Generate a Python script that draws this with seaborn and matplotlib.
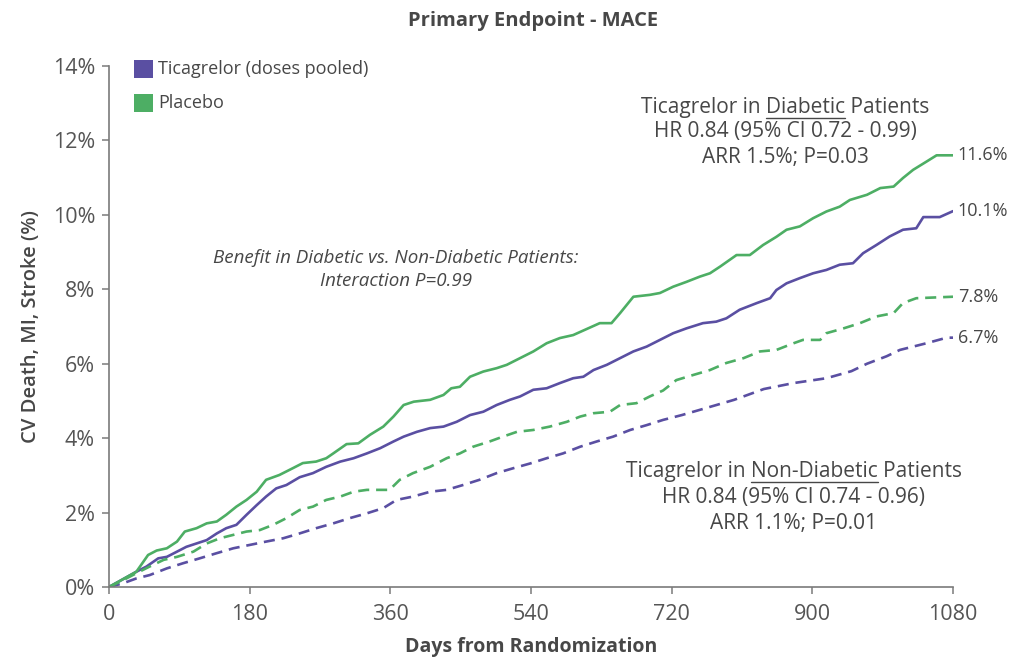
import matplotlib
matplotlib.use("Agg")
import matplotlib.pyplot as plt
from matplotlib.patches import Rectangle
from matplotlib.lines import Line2D
import seaborn as sns
import pandas as pd

# Kaplan-Meier cumulative incidence (%) by day from randomization
placebo_dm_days = [0, 35, 50, 61, 74, 87, 97, 112, 125, 138, 150, 163, 176, 189, 201, 218, 235, 248, 265, 278,
                   287, 304, 319, 334, 351, 364, 377, 390, 411, 428, 438, 449, 462, 479, 496, 509, 526, 543, 560, 577,
                   594, 611, 628, 643, 654, 671, 692, 705, 722, 739, 756, 769, 782, 803, 820, 837, 854, 867, 884, 901,
                   918, 935, 948, 970, 987, 1004, 1016, 1029, 1046, 1059, 1080]
placebo_dm_pct = [0, 0.41, 0.86, 0.98, 1.04, 1.22, 1.49, 1.58, 1.71, 1.76, 1.94, 2.16, 2.34, 2.56, 2.88, 3.01, 3.19, 3.33, 3.37, 3.46,
                  3.59, 3.84, 3.86, 4.09, 4.31, 4.58, 4.89, 4.98, 5.03, 5.16, 5.34, 5.38, 5.65, 5.79, 5.88, 5.97, 6.15, 6.33, 6.55, 6.69,
                  6.77, 6.93, 7.09, 7.09, 7.36, 7.8, 7.85, 7.9, 8.07, 8.2, 8.34, 8.43, 8.61, 8.92, 8.92, 9.19, 9.41, 9.6, 9.69, 9.91,
                  10.09, 10.22, 10.4, 10.54, 10.72, 10.76, 10.99, 11.21, 11.43, 11.6, 11.6]

ticagrelor_dm_days = [0, 35, 48, 63, 74, 87, 99, 112, 125, 138, 150, 163, 176, 189, 201, 214, 227, 244, 261, 278,
                      296, 313, 330, 347, 364, 377, 394, 411, 428, 445, 462, 479, 496, 513, 526, 543, 560, 577, 594, 607,
                      620, 637, 654, 671, 688, 705, 722, 739, 760, 777, 790, 807, 829, 846, 854, 867, 884, 901, 918, 935,
                      952, 965, 982, 999, 1016, 1033, 1042, 1063, 1080]
ticagrelor_dm_pct = [0, 0.41, 0.55, 0.77, 0.81, 0.95, 1.08, 1.17, 1.26, 1.44, 1.58, 1.67, 1.94, 2.2, 2.43, 2.65, 2.74, 2.95, 3.06, 3.23,
                     3.37, 3.46, 3.59, 3.73, 3.91, 4.04, 4.17, 4.27, 4.31, 4.44, 4.62, 4.71, 4.89, 5.03, 5.12, 5.3, 5.34, 5.48, 5.61, 5.65,
                     5.83, 5.97, 6.15, 6.33, 6.46, 6.64, 6.82, 6.95, 7.09, 7.13, 7.22, 7.45, 7.63, 7.76, 7.98, 8.16, 8.3, 8.43, 8.52, 8.66,
                     8.7, 8.97, 9.19, 9.42, 9.6, 9.64, 9.94, 9.94, 10.1]

placebo_nondm_days = [0, 14, 35, 52, 70, 87, 108, 125, 142, 159, 176, 193, 210, 227, 244, 261, 278, 296, 313, 330,
                      359, 372, 389, 411, 432, 449, 466, 487, 504, 522, 543, 564, 586, 603, 620, 641, 654, 675, 692, 709,
                      726, 748, 769, 790, 812, 833, 854, 876, 888, 910, 918, 940, 961, 982, 1004, 1016, 1033, 1080]
placebo_nondm_pct = [0, 0.14, 0.37, 0.55, 0.73, 0.81, 0.95, 1.17, 1.31, 1.4, 1.49, 1.53, 1.67, 1.85, 2.07, 2.16, 2.34, 2.43, 2.56, 2.61,
                     2.61, 2.88, 3.06, 3.23, 3.46, 3.59, 3.77, 3.91, 4.04, 4.17, 4.22, 4.31, 4.44, 4.58, 4.67, 4.71, 4.89, 4.94, 5.12, 5.28,
                     5.56, 5.7, 5.83, 6.02, 6.15, 6.33, 6.37, 6.55, 6.64, 6.64, 6.82, 6.95, 7.09, 7.27, 7.36, 7.63, 7.76, 7.8]

ticagrelor_nondm_days = [0, 18, 35, 52, 74, 95, 116, 138, 159, 180, 201, 223, 244, 265, 287, 308, 330, 351, 368, 389,
                         411, 432, 453, 474, 496, 517, 539, 560, 581, 603, 624, 645, 667, 688, 709, 733, 756, 800, 838, 876,
                         918, 950, 970, 995, 1012, 1046, 1072, 1080]
ticagrelor_nondm_pct = [0, 0.1, 0.23, 0.32, 0.5, 0.64, 0.77, 0.91, 1.04, 1.13, 1.22, 1.31, 1.44, 1.58, 1.71, 1.85, 1.98, 2.12, 2.34, 2.43,
                        2.56, 2.61, 2.74, 2.88, 3.06, 3.19, 3.32, 3.46, 3.59, 3.77, 3.91, 4.04, 4.22, 4.35, 4.49, 4.62, 4.76, 5.03, 5.32, 5.48,
                        5.61, 5.8, 6.0, 6.2, 6.37, 6.55, 6.7, 6.7]

treatments = ["Ticagrelor (doses pooled)", "Placebo"]
end_labels = ["11.6%", "10.1%", "7.8%", "6.7%"]
end_values = [11.6, 10.1, 7.8, 6.7]
x_ticks = [0, 180, 360, 540, 720, 900, 1080]
y_ticks = [0, 2, 4, 6, 8, 10, 12, 14]

PURPLE = "#5a4fa2"
GREEN = "#4dae64"
TEXT = "#474747"
TICK = "#555555"
AXIS = "#7a7a7a"

frames = []
for days, pct, trt, grp in [
    (ticagrelor_dm_days, ticagrelor_dm_pct, treatments[0], "Diabetic"),
    (placebo_dm_days, placebo_dm_pct, treatments[1], "Diabetic"),
    (ticagrelor_nondm_days, ticagrelor_nondm_pct, treatments[0], "Non-Diabetic"),
    (placebo_nondm_days, placebo_nondm_pct, treatments[1], "Non-Diabetic"),
]:
    frames.append(pd.DataFrame({"day": days, "pct": pct, "treatment": trt, "group": grp}))
df = pd.concat(frames, ignore_index=True)

sns.set_theme(style="white")
plt.rcParams["font.family"] = ["Open Sans", "DejaVu Sans"]

W, H = 1009, 658
fig = plt.figure(figsize=(W / 100, H / 100), dpi=100)
ax = fig.add_axes([109 / W, 1 - 587 / H, (953 - 109) / W, (587 - 66) / H])

sns.lineplot(data=df, x="day", y="pct", hue="treatment", style="group",
             palette={treatments[0]: PURPLE, treatments[1]: GREEN},
             dashes={"Diabetic": "", "Non-Diabetic": (4.2, 2.6)},
             units="group", estimator=None, sort=False,
             linewidth=1.9, legend=False, ax=ax)

ax.set_xlim(0, 1080)
ax.set_ylim(0, 14)
ax.set_xticks(x_ticks)
ax.set_xticklabels([str(t) for t in x_ticks])
ax.set_yticks(y_ticks)
ax.set_yticklabels([f"{t}%" for t in y_ticks])
for side in ["top", "right"]:
    ax.spines[side].set_visible(False)
for side in ["left", "bottom"]:
    ax.spines[side].set_color(AXIS)
    ax.spines[side].set_linewidth(1.2)
ax.tick_params(axis="both", which="both", direction="out", length=5, width=1.1,
               color=AXIS, labelcolor=TICK, labelsize=15.5, pad=5,
               left=True, bottom=True)
ax.tick_params(axis="x", pad=7)
ax.set_xlabel("Days from Randomization", fontsize=14, fontweight="bold", color=TEXT, labelpad=9)
ax.set_ylabel("CV Death, MI, Stroke (%)", fontsize=14.5, fontweight="semibold", color=TEXT, labelpad=8)

# Final-value labels at the right end of each curve
for lab, val in zip(end_labels, end_values):
    ax.text(1086, val, lab, ha="left", va="center", fontsize=13, color=TEXT, clip_on=False)

# Title
fig.text(533 / W, 1 - 21 / H, "Primary Endpoint - MACE", ha="center", va="center",
         fontsize=14.5, fontweight="bold", color=TEXT)

# Legend squares
for i, (lab, col) in enumerate(zip(treatments, [PURPLE, GREEN])):
    yc = 69 + i * 34
    fig.add_artist(Rectangle((134 / W, 1 - (yc + 9) / H), 19 / W, 18 / H,
                             transform=fig.transFigure, color=col, lw=0))
    fig.text(158 / W, 1 - yc / H, lab, ha="left", va="center", fontsize=13, color=TEXT)

renderer = fig.canvas.get_renderer()


def text_width(s, **kw):
    t = fig.text(0, 0, s, **kw)
    w = t.get_window_extent(renderer).width
    t.remove()
    return w


def underlined_line(xc, yc, before, under, after, **kw):
    full = before + under + after
    fig.text(xc / W, 1 - yc / H, full, ha="center", va="center", **kw)
    total = text_width(full, **kw)
    x0 = xc - total / 2 + text_width(before, **kw)
    x1 = x0 + text_width(under, **kw)
    yl = yc + 11
    fig.add_artist(Line2D([x0 / W, x1 / W], [1 - yl / H, 1 - yl / H],
                          transform=fig.transFigure, color=TEXT, lw=1.0))


note_kw = dict(fontsize=15, color=TEXT)

underlined_line(785, 107, "Ticagrelor in ", "Diabetic", " Patients", **note_kw)
fig.text(785 / W, 1 - 132 / H, "HR 0.84 (95% CI 0.72 - 0.99)", ha="center", va="center", **note_kw)
fig.text(785 / W, 1 - 158 / H, "ARR 1.5%; P=0.03", ha="center", va="center", **note_kw)

underlined_line(794, 471, "Ticagrelor in ", "Non-Diabetic", " Patients", **note_kw)
fig.text(794 / W, 1 - 497 / H, "HR 0.84 (95% CI 0.74 - 0.96)", ha="center", va="center", **note_kw)
fig.text(794 / W, 1 - 523 / H, "ARR 1.1%; P=0.01", ha="center", va="center", **note_kw)

fig.text(396 / W, 1 - 258 / H, "Benefit in Diabetic vs. Non-Diabetic Patients:", ha="center", va="center",
         fontsize=13.5, style="italic", color=TEXT)
fig.text(396 / W, 1 - 281 / H, "Interaction P=0.99", ha="center", va="center",
         fontsize=13.5, style="italic", color=TEXT)

fig.savefig("out.png", dpi=100, facecolor="white")
